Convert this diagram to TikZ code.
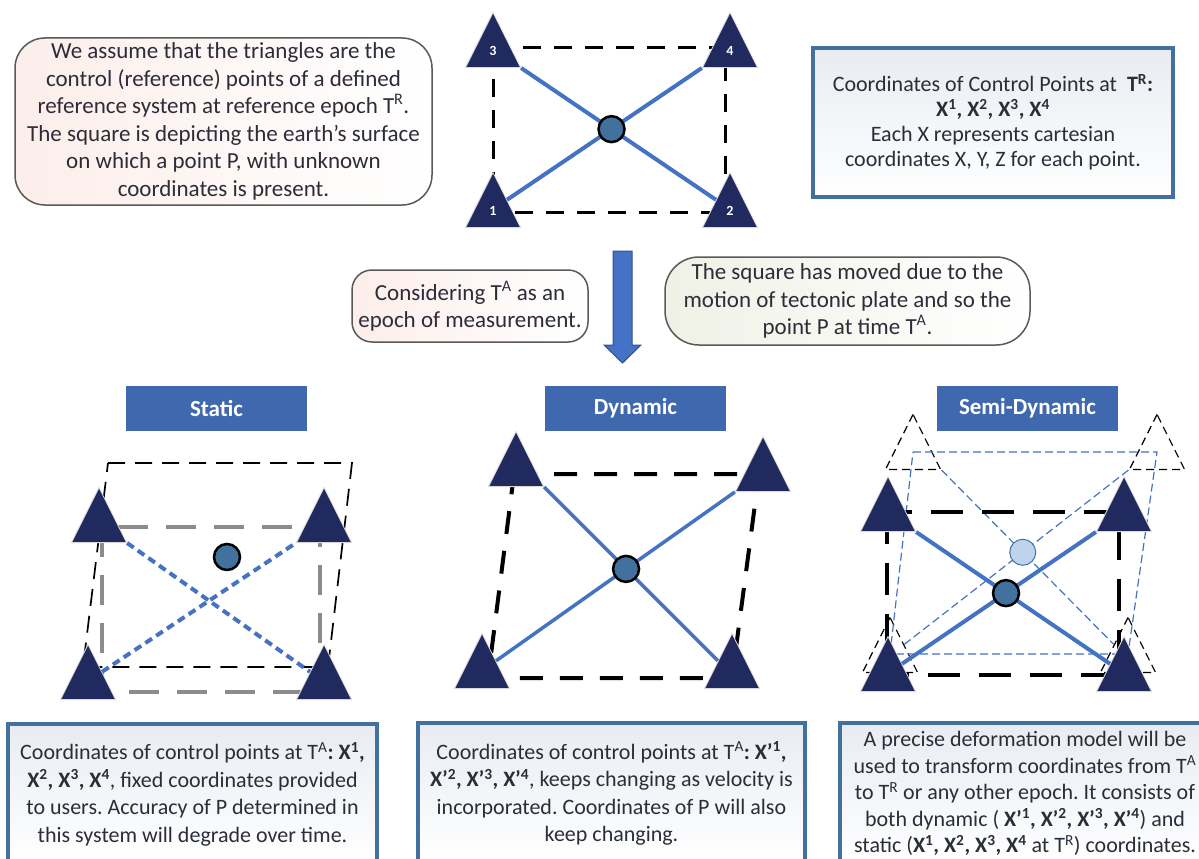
\documentclass[tikz,border=0pt]{standalone}
\usepackage{fontspec}
\setmainfont{Carlito}
\usetikzlibrary{positioning}
\usetikzlibrary{shapes.geometric}
\usetikzlibrary{intersections}
\frenchspacing

\definecolor{navy}{RGB}{32,42,94}
\definecolor{pblue}{RGB}{68,114,196}
\definecolor{steel}{RGB}{65,113,156}
\definecolor{barblue}{RGB}{64,104,174}
\definecolor{arrowline}{RGB}{47,82,143}
\definecolor{lightp}{RGB}{190,212,236}
\definecolor{ink}{RGB}{45,45,58}
\definecolor{pinkish}{RGB}{252,238,234}
\definecolor{greenish}{RGB}{239,241,230}
\definecolor{boxtop}{RGB}{232,236,242}
\definecolor{midgray}{RGB}{140,140,140}

\begin{document}
\begin{tikzpicture}[x=1pt,y=-1pt,
  ctrl/.style={isosceles triangle, isosceles triangle stretches, shape border rotate=90,
    minimum width=55pt, minimum height=55pt, inner sep=0pt, fill=navy, draw=gray!30,
    line width=0.8pt, anchor=lower side, text=white, font=\fontsize{14}{14}\selectfont\bfseries},
  ghost/.style={ctrl, fill=none, draw=black, line width=1.2pt, dash pattern=on 8pt off 5pt},
  ptP/.style={circle, fill=steel, draw=black, line width=2.5pt, minimum size=26pt, inner sep=0pt},
  link/.style={pblue, line width=4pt},
  note/.style={draw=black!65, line width=1.5pt, right color=white, align=center, text=ink,
    font=\fontsize{23}{27.5}\selectfont, inner sep=0pt},
  infobox/.style={draw=steel, line width=4.5pt, top color=boxtop, bottom color=white,
    align=center, text=ink, font=\fontsize{22}{27.5}\selectfont, inner sep=0pt},
  bar/.style={fill=barblue, text=white, font=\fontsize{23}{23}\selectfont\bfseries,
    minimum width=181pt, minimum height=45pt, inner sep=0pt}]

  \useasboundingbox (0,0) rectangle (1199,859);

  % notes on top
  \node[note, left color=pinkish, minimum width=417pt, minimum height=167pt, rounded corners=30pt]
    (intro) at (223.5,121.5) {We assume that the triangles are the\\control (reference) points of a defined\\reference system at reference epoch T\textsuperscript{R}.\\The square is depicting the earth’s surface\\on which a point P, with unknown\\coordinates is present.};
  \node[infobox, minimum width=360pt, minimum height=149pt, font=\fontsize{22}{25}\selectfont]
    (ref) at (993,122.5) {Coordinates of Control Points at ~\textbf{T\textsuperscript{R}:}\\\textbf{X\textsuperscript{1}, X\textsuperscript{2}, X\textsuperscript{3}, X\textsuperscript{4}}\\Each X represents cartesian\\coordinates X, Y, Z for each point.};

  % reference square
  \draw[line width=3pt, dash pattern=on 18pt off 13pt] (493,48) rectangle (725,212);
  \foreach \n/\x/\y in {1/493/228, 2/730/228, 3/493/68, 4/730/68}
    {\node[ctrl] (t\n) at (\x,\y) {\n};}
  \draw[link, name path=a1] (t3.right corner) -- (t2.left side);
  \draw[link, name path=a2] (t1.right side) -- (t4.left corner);
  \path[name intersections={of=a1 and a2, by=x0}];
  \node[ptP] (p0) at (x0) {};

  % arrow and its notes
  \draw[fill=pblue, draw=arrowline, line width=1pt] (613,251) -- (632,251) -- (632,345) -- (641,345)
    -- (622.5,363) -- (604,345) -- (613,345) -- cycle;
  \node[note, left color=pinkish, minimum width=236pt, minimum height=72pt, rounded corners=20pt]
    (epoch) at (470,306) {Considering T\textsuperscript{A} as an\\epoch of measurement.};
  \node[note, left color=greenish, minimum width=365pt, minimum height=88pt, rounded corners=34pt]
    (moved) at (847.5,301) {The square has moved due to the\\motion of tectonic plate and so the\\point P at time T\textsuperscript{A}.};

  % titles
  \node[bar] (lblS) at (216.5,408.5) {Static};
  \node[bar] (lblD) at (635.5,408.5) {Dynamic};
  \node[bar] (lblM) at (1027.5,408.5) {Semi-Dynamic};

  % static
  \draw[line width=1.7pt, dash pattern=on 17pt off 10pt] (108,463) -- (352,463) -- (328,667) -- (83,667) -- cycle;
  \draw[midgray, line width=4pt, dash pattern=on 30pt off 18pt] (102,527) rectangle (320,692);
  \foreach \n/\x/\y in {1/88/700, 2/324/700, 3/99/543, 4/324/543}
    {\node[ctrl] (s\n) at (\x,\y) {};}
  \draw[link, dash pattern=on 8pt off 5pt] (s3.right corner) -- (s2.left side);
  \draw[link, dash pattern=on 8pt off 5pt] (s1.right side) -- (s4.left corner);
  \node[ptP] (ps) at (227,557) {};

  % dynamic
  \draw[line width=4pt, dash pattern=on 23pt off 17pt] (514,474) -- (759,474) -- (732,678) -- (488,678) -- cycle;
  \foreach \n/\x/\y in {1/482/689, 2/732/689, 3/516/487, 4/763/492}
    {\node[ctrl] (d\n) at (\x,\y) {};}
  \draw[link, line width=3.5pt, name path=c1] (d3.right corner) -- (d2.left side);
  \draw[link, line width=3.5pt, name path=c2] (d1.right side) -- (d4.left corner);
  \path[name intersections={of=c1 and c2, by=x1}];
  \node[ptP] (pd) at (x1) {};

  % semi-dynamic, old position
  \foreach \n/\x/\y in {1/890/673, 2/1128/673, 3/913/470, 4/1157/470}
    {\node[ghost] (g\n) at (\x,\y) {};}
  \draw[pblue, line width=1.2pt, dash pattern=on 8pt off 4pt] (913,452) -- (1157,452) -- (1128,654) -- (890,654) -- cycle;
  \draw[pblue, line width=1.2pt, dash pattern=on 8pt off 4pt, name path=e1] (g3.right corner) -- (g2.left side);
  \draw[pblue, line width=1.2pt, dash pattern=on 8pt off 4pt, name path=e2] (g1.right side) -- (g4.left corner);
  \path[name intersections={of=e1 and e2, by=x2}];
  \node[ptP, fill=lightp, draw=steel, line width=1pt] (pg) at (x2) {};

  % semi-dynamic, new position
  \draw[line width=4.5pt, dash pattern=on 32pt off 19pt] (887,512) rectangle (1119,675);
  \foreach \n/\x/\y in {1/888/692, 2/1124/692, 3/888/532, 4/1124/532}
    {\node[ctrl] (m\n) at (\x,\y) {};}
  \draw[link, name path=f1] (m3.right corner) -- (m2.left side);
  \draw[link, name path=f2] (m1.right side) -- (m4.left corner);
  \path[name intersections={of=f1 and f2, by=x3}];
  \node[ptP] (pm) at (x3) {};

  % boxes at the bottom
  \node[infobox, minimum width=369pt, minimum height=140pt] (boxS) at (192.5,794)
    {Coordinates of control points at T\textsuperscript{A}\textbf{: X\textsuperscript{1},}\\\textbf{X\textsuperscript{2}, X\textsuperscript{3}, X\textsuperscript{4}}, fixed coordinates provided\\to users. Accuracy of P determined in\\this system will degrade over time.};
  \node[infobox, minimum width=387pt, minimum height=141pt] (boxD) at (611.5,793.5)
    {Coordinates of control points at T\textsuperscript{A}\textbf{: X’\textsuperscript{1},}\\\textbf{X’\textsuperscript{2}, X’\textsuperscript{3}, X’\textsuperscript{4}}, keeps changing as velocity is\\incorporated. Coordinates of P will also\\keep changing.};
  \node[infobox, minimum width=370pt, minimum height=141pt, font=\fontsize{22}{26.5}\selectfont] (boxM) at (1025,793.5)
    {A precise deformation model will be\\used to transform coordinates from T\textsuperscript{A}\\to T\textsuperscript{R} or any other epoch. It consists of\\both dynamic ( \textbf{X’\textsuperscript{1}, X’\textsuperscript{2}, X’\textsuperscript{3}, X’\textsuperscript{4}}) and\\static (\textbf{X\textsuperscript{1}, X\textsuperscript{2}, X\textsuperscript{3}, X\textsuperscript{4}} at T\textsuperscript{R}) coordinates.};
\end{tikzpicture}
\end{document}
